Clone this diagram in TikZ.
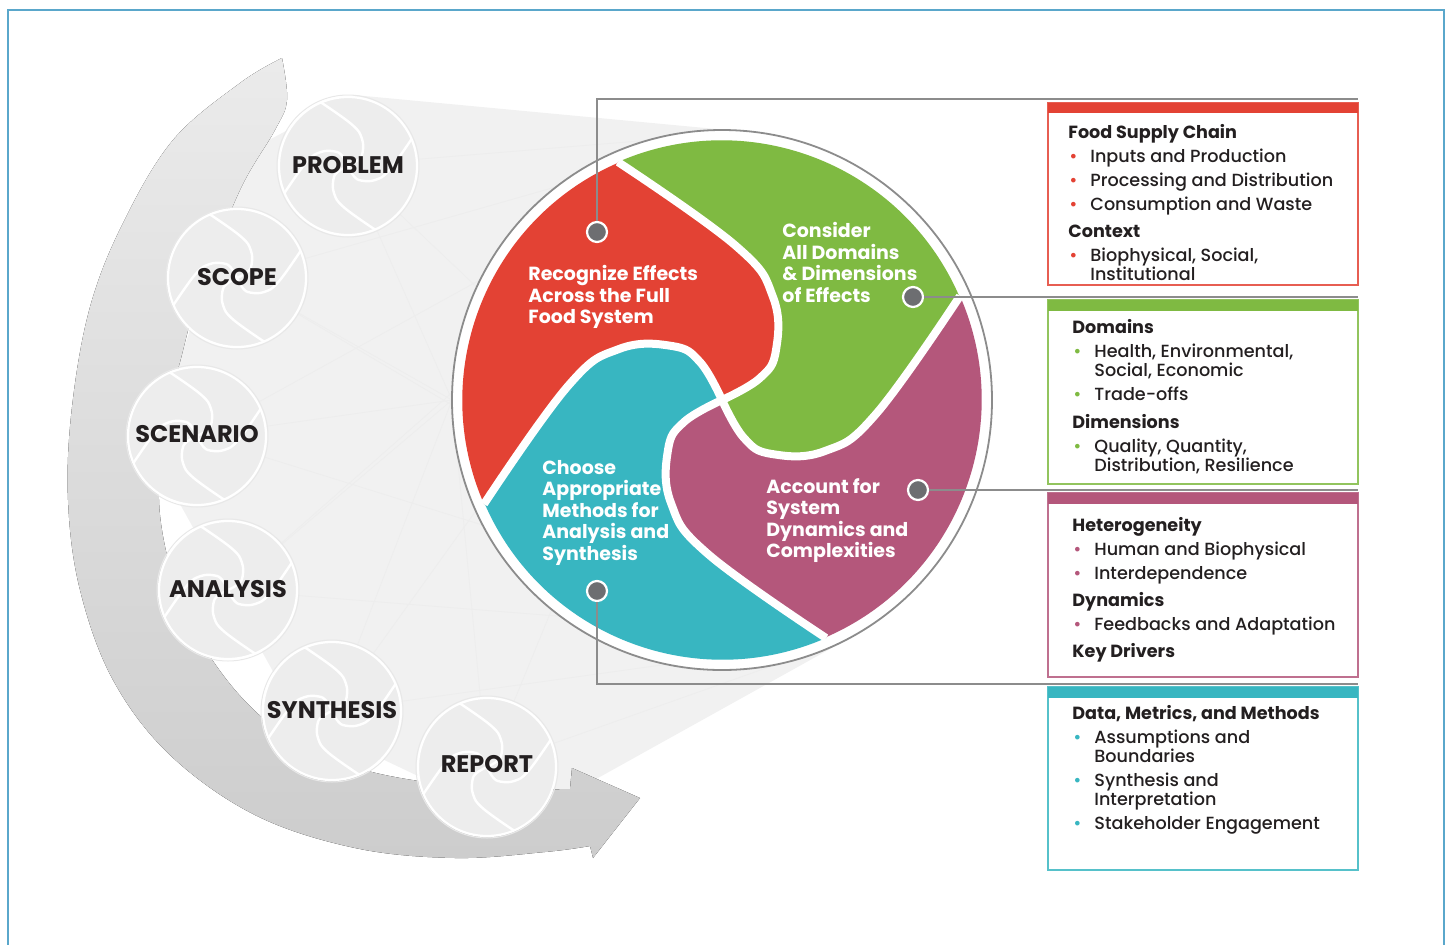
\documentclass[tikz,border=0pt]{standalone}
\usepackage{fontspec}
\setmainfont{Poppins}
\newfontfamily\medfont{Poppins}[UprightFont=*-Medium, BoldFont=*-Bold]
\usetikzlibrary{calc}
\definecolor{fsred}{HTML}{E34234}
\definecolor{fsgreen}{HTML}{7FBA42}
\definecolor{fsmag}{HTML}{B4577B}
\definecolor{fsteal}{HTML}{38B6C1}
\definecolor{dotgray}{HTML}{6D6E71}
\definecolor{linegray}{HTML}{8C8C8C}
\definecolor{inkdark}{HTML}{231F20}
\definecolor{framblue}{HTML}{5AA7CB}
\definecolor{fangray}{HTML}{F1F1F1}
\definecolor{stagegray}{HTML}{EDEDED}
\definecolor{arrowtop}{HTML}{EBEBEB}
\definecolor{arrowbot}{HTML}{CDCDCD}
\newcommand\bul[1]{\makebox[11pt][l]{\hspace*{0.5pt}\textcolor{#1}{\textbullet}}}
\tikzset{
  stage/.style={inner sep=0pt, text=inkdark, font=\bfseries\fontsize{12}{14}\selectfont},
  swirltxt/.style={anchor=north west, inner sep=0pt, align=left, text=white, font=\bfseries\fontsize{9.5}{10.75}\selectfont},
  swirlgap/.style={white, line width=4pt},
  calldot/.style={circle, fill=dotgray, draw=white, line width=1.1pt, minimum size=10pt, inner sep=0pt},
  callline/.style={draw=linegray, line width=1pt},
  boxtxt/.style={anchor=north west, inner sep=0pt, align=left, text=inkdark, font=\medfont\fontsize{8.8}{12}\selectfont},
  rayline/.style={draw=black!7, line width=0.4pt}
}

\begin{document}
\begin{tikzpicture}[x=0.5pt,y=-0.5pt]
\useasboundingbox (0,0) rectangle (1448,944);
% light fan behind the stages
\fill[fangray] (354,95) -- (748,132) -- (722,400) -- (848,639) -- (517,823) -- (300,720) -- (150,450) -- (250,150) -- cycle;
\foreach \sx/\sy in {348/165, 237/278, 197/436, 228/590, 332/711, 487/767}
  \foreach \tx/\ty in {748/132, 452/400, 848/639}
    \draw[rayline] (\sx,\sy) -- (\tx,\ty);
% big curved arrow
\fill[top color=arrowtop, bottom color=arrowbot]
  plot[smooth, tension=0.6] coordinates {(282,58) (240,83) (173,140) (123,223) (90,307) (72,407) (68,500) (80,590) (113,680) (170,755) (255,815) (355,848) (455,858) (545,852) (590,846)}
  -- (593,858) -- (640,798) -- (572,768)
  -- plot[smooth, tension=0.6] coordinates {(570,789) (480,788) (376,773) (300,745) (235,690) (185,610) (160,515) (165,420) (180,362) (200,290) (240,190) (275,130) (287,100) (282,58)}
  -- cycle;
% stage discs with a faded pinwheel
\foreach \cx/\cy in {348/166, 237/278, 197/436, 228/590, 332/711, 487/767} {
  \fill[stagegray] (\cx,\cy) circle[radius=69];
  \begin{scope}[shift={(\cx,\cy)}]
    \clip (0,0) circle[radius=69];
    \foreach \rot in {0,90,180,270}
      \draw[white, line width=1.2pt, rotate=\rot, scale=0.27]
        plot[smooth, tension=0.7] coordinates {(-104,-238) (14,-154) (51,-103) (54,-50) (38,-22) (0,0)};
  \end{scope}
  \draw[black!9, line width=0.5pt] (\cx,\cy) circle[radius=71];
  \draw[white, line width=1.1pt] (\cx,\cy) circle[radius=69];
}
\node[stage] (problem) at (348,165) {PROBLEM};
\node[stage] (scope) at (237,277) {SCOPE};
\node[stage] (scenario) at (197,434) {SCENARIO};
\node[stage] (analysis) at (228,589) {ANALYSIS};
\node[stage] (synthesis) at (332,710) {SYNTHESIS};
\node[stage] (report) at (487,764) {REPORT};
% pinwheel
\fill[white] (722,400) circle[radius=270];
\draw[linegray, line width=0.9pt] (722,400) circle[radius=270];
\begin{scope}[shift={(722,400)}]
  \foreach \ang/\col in {0/fsred, -90/fsgreen, -180/fsmag, 90/fsteal}
    \fill[\col, rotate=\ang] plot[smooth, tension=0.7] coordinates {(-104,-238) (14,-154) (51,-103) (54,-50) (38,-22) (0,0)}
      -- plot[smooth, tension=0.7] coordinates {(0,0) (-22,-38) (-50,-54) (-103,-51) (-154,-14) (-238,104)}
      arc[start angle=156.4, end angle=246.4, radius=259] -- cycle;
  \foreach \ang in {0,90,180,270}
    \draw[swirlgap, rotate=\ang] plot[smooth, tension=0.7] coordinates {(-104,-238) (14,-154) (51,-103) (54,-50) (38,-22) (0,0)};
\end{scope}
\node[swirltxt] (recog) at (528,265) {Recognize Effects\\Across the Full\\Food System};
\node[swirltxt] (consider) at (782,222) {Consider\\All Domains\\\& Dimensions\\of Effects};
\node[swirltxt] (account) at (766,478) {Account for\\System\\Dynamics and\\Complexities};
\node[swirltxt] (choose) at (542,460) {Choose\\Appropriate\\Methods for\\Analysis and\\Synthesis};
% callouts
\node[calldot] (dotred) at (597,232) {};
\node[calldot] (dotgreen) at (913,297) {};
\node[calldot] (dotmag) at (918,490) {};
\node[calldot] (dotteal) at (597,591) {};
\coordinate (redend) at (1358,99);
\coordinate (greenend) at (1358,297);
\coordinate (magend) at (1358,490);
\coordinate (tealend) at (1358,684);
\draw[callline] (dotred.north) |- (redend);
\draw[callline] (dotgreen.east) -- (greenend);
\draw[callline] (dotmag.east) -- (magend);
\draw[callline] (dotteal.south) |- (tealend);
% boxes
\draw[fsred!85, line width=0.8pt] (1048,103) rectangle (1358,285);
\fill[fsred] (1048,103) rectangle (1358,113);
\draw[fsgreen!85, line width=0.8pt] (1048,300) rectangle (1358,484);
\fill[fsgreen] (1048,300) rectangle (1358,311);
\draw[fsmag!85, line width=0.8pt] (1048,493) rectangle (1358,677);
\fill[fsmag] (1048,493) rectangle (1358,504);
\draw[fsteal!85, line width=0.8pt] (1048,687) rectangle (1358,870);
\fill[fsteal] (1048,687) rectangle (1358,698);
\node[boxtxt] (foodtxt) at (1068,124) {\textbf{Food Supply Chain}\\
  \bul{fsred}Inputs and Production\\
  \bul{fsred}Processing and Distribution\\
  \bul{fsred}Consumption and Waste\\[1.5pt]
  \textbf{Context}\\
  \bul{fsred}Biophysical, Social,\\[-2.5pt]
  \hspace*{11pt}Institutional};
\node[boxtxt] (domaintxt) at (1072,319) {\textbf{Domains}\\
  \bul{fsgreen}Health, Environmental,\\[-2.5pt]
  \hspace*{11pt}Social, Economic\\
  \bul{fsgreen}Trade-offs\\[2pt]
  \textbf{Dimensions}\\
  \bul{fsgreen}Quality, Quantity,\\[-2.5pt]
  \hspace*{11pt}Distribution, Resilience};
\node[boxtxt] (dyntxt) at (1072,517) {\textbf{Heterogeneity}\\
  \bul{fsmag}Human and Biophysical\\
  \bul{fsmag}Interdependence\\[1.5pt]
  \textbf{Dynamics}\\
  \bul{fsmag}Feedbacks and Adaptation\\[1.5pt]
  \textbf{Key Drivers}};
\node[boxtxt] (datatxt) at (1072,705) {\textbf{Data, Metrics, and Methods}\\
  \bul{fsteal}Assumptions and\\[-2.5pt]
  \hspace*{11pt}Boundaries\\
  \bul{fsteal}Synthesis and\\[-2.5pt]
  \hspace*{11pt}Interpretation\\
  \bul{fsteal}Stakeholder Engagement};
% frame
\draw[framblue, line width=1.2pt] (8,990) -- (8,10) -- (1444,10) -- (1444,990);
\end{tikzpicture}
\end{document}
